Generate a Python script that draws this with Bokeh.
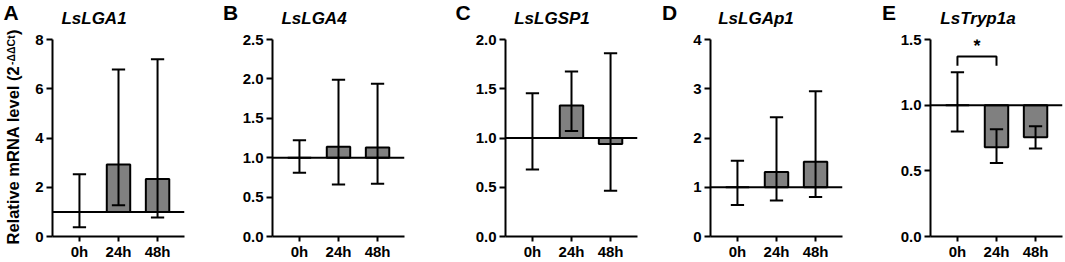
import math
from bokeh.plotting import figure
from bokeh.layouts import row, column
from bokeh.models import (Range1d, FixedTicker, Span, ColumnDataSource,
                          NumeralTickFormatter)
from bokeh.core.properties import value
from bokeh.embed import file_html
from bokeh.resources import INLINE

# ---------------- data ----------------
times = ["0h", "24h", "48h"]
panel_letters = ["A", "B", "C", "D", "E"]
genes = ["LsLGA1", "LsLGA4", "LsLGSP1", "LsLGAp1", "LsTryp1a"]

# mean relative expression (bars drawn from baseline 1) with error-bar ends
lga1_mean = [1.0, 2.92, 2.34]
lga1_low = [0.38, 1.27, 0.77]
lga1_high = [2.53, 6.78, 7.20]

lga4_mean = [1.0, 1.14, 1.13]
lga4_low = [0.81, 0.66, 0.67]
lga4_high = [1.22, 1.99, 1.94]

lgsp1_mean = [1.0, 1.33, 0.94]
lgsp1_low = [0.68, 1.07, 0.465]
lgsp1_high = [1.455, 1.675, 1.86]

lgap1_mean = [1.0, 1.31, 1.52]
lgap1_low = [0.64, 0.73, 0.80]
lgap1_high = [1.54, 2.42, 2.95]

tryp_mean = [1.0, 0.68, 0.755]
tryp_low = [0.80, 0.56, 0.67]
tryp_high = [1.25, 0.816, 0.84]

# y ticks per panel
ticks_a = [0, 2, 4, 6, 8]
ticks_b = [0, 0.5, 1.0, 1.5, 2.0, 2.5]
ticks_c = [0, 0.5, 1.0, 1.5, 2.0]
ticks_d = [0, 1, 2, 3, 4]
ticks_e = [0, 0.5, 1.0, 1.5]

# significance in panel E: between 0h and 24h
sig_pair = [1, 2]
sig_level = 1.37
sig_leg_bottom = 1.30
sig_text = "*"

# y-axis title pieces
ylabel_main = "Relative mRNA level (2"
ylabel_sup = "-ΔΔCt"
ylabel_end = ")"

FONT = "Liberation Sans"
GRAY = "#808080"
FRAME_W = 132
W_TOTAL = 1065
H_TOTAL = 262
STRIP_H = 27          # top strip with panel letters and gene names
YLAB_W = 24           # strip with the y-axis title


def make_panel(mean, low, high, ticks, fmt, left, right, sig=False):
    xs = [1, 2, 3]
    w = left + FRAME_W + right
    p = figure(width=w, height=H_TOTAL - STRIP_H, output_backend="svg",
               toolbar_location=None, title=None, x_range=Range1d(0.31, 3.69),
               y_range=Range1d(0, ticks[-1]),
               min_border_left=left, min_border_right=right,
               min_border_top=12, min_border_bottom=26)
    p.outline_line_color = None
    p.xgrid.visible = False
    p.ygrid.visible = False
    p.background_fill_color = None
    p.border_fill_color = None

    src = ColumnDataSource(dict(x=xs, top=mean, low=low, high=high,
                                cl=[x - 0.17 for x in xs], cr=[x + 0.17 for x in xs]))
    p.vbar(x="x", width=0.6, bottom=1, top="top", source=src,
           fill_color=GRAY, line_color="black", line_width=2)
    p.add_layout(Span(location=1, dimension="width", line_color="black", line_width=2))
    p.segment(x0="x", y0="low", x1="x", y1="high", source=src,
              line_color="black", line_width=2)
    p.segment(x0="cl", y0="low", x1="cr", y1="low", source=src,
              line_color="black", line_width=2)
    p.segment(x0="cl", y0="high", x1="cr", y1="high", source=src,
              line_color="black", line_width=2)

    for ax in (p.xaxis[0], p.yaxis[0]):
        ax.axis_line_width = 2
        ax.axis_line_color = "black"
        ax.major_tick_line_width = 2
        ax.major_tick_line_color = "black"
        ax.major_tick_in = 0
        ax.major_tick_out = 6
        ax.minor_tick_line_color = None
        ax.major_label_text_font = FONT
        ax.major_label_text_font_style = "bold"
        ax.major_label_text_font_size = "15px"
        ax.major_label_text_color = "black"
    p.xaxis.ticker = FixedTicker(ticks=xs)
    p.xaxis.major_label_overrides = {x: t for x, t in zip(xs, times)}
    p.xaxis.major_tick_out = 5
    p.xaxis.major_label_standoff = 1
    p.yaxis.ticker = FixedTicker(ticks=ticks)
    p.yaxis.formatter = NumeralTickFormatter(format=fmt)
    p.yaxis.major_label_standoff = 3

    if sig:
        x0, x1 = sig_pair
        p.line(x=[x0, x0, x1, x1],
               y=[sig_leg_bottom, sig_level, sig_level, sig_leg_bottom],
               line_color="black", line_width=2)
        p.text(x=[(x0 + x1) / 2], y=[sig_level], text=[sig_text],
               text_font=value(FONT), text_font_style="bold", text_font_size="18px",
               text_align="center", text_baseline="bottom", text_color="black",
               y_offset=-1)
    return p


def blank(width, height):
    f = figure(width=width, height=height, output_backend="svg",
               toolbar_location=None, title=None,
               x_axis_location=None, y_axis_location=None,
               x_range=Range1d(0, width), y_range=Range1d(height, 0),
               min_border=0)
    f.grid.visible = False
    f.outline_line_color = None
    f.background_fill_color = None
    f.border_fill_color = None
    if "frame_align" in f.properties():
        f.frame_align = False
    return f


# panel geometry: (left border, right border); first panel sits right of the y-title strip
borders = [(52 - YLAB_W, 36), (52, 36), (65, 28), (45, 38), (50, 3)]
formats = ["0", "0.0", "0.0", "0", "0.0"]
means = [lga1_mean, lga4_mean, lgsp1_mean, lgap1_mean, tryp_mean]
lows = [lga1_low, lga4_low, lgsp1_low, lgap1_low, tryp_low]
highs = [lga1_high, lga4_high, lgsp1_high, lgap1_high, tryp_high]
tick_sets = [ticks_a, ticks_b, ticks_c, ticks_d, ticks_e]
title_dx = [41.5, 41.5, 46.5, 45.5, 47.5]     # gene-name centre relative to y axis
letter_dx = [-49, -49.5, -50, -48.5, -48.5]   # panel letter left edge relative to y axis

panels = []
frame_lefts = []          # absolute x of each y axis
x_cursor = YLAB_W
for i in range(5):
    l, r = borders[i]
    panels.append(make_panel(means[i], lows[i], highs[i], tick_sets[i], formats[i],
                             l, r, sig=(i == 4)))
    frame_lefts.append(x_cursor + l)
    x_cursor += l + FRAME_W + r

# top strip (starts right of the y-title strip): letters and gene names
top = blank(W_TOTAL - YLAB_W, STRIP_H)
ylab = blank(YLAB_W, H_TOTAL)

top.text(x=[fl + dx - YLAB_W for fl, dx in zip(frame_lefts, title_dx)], y=[18.3] * 5,
         text=genes, text_font=value(FONT), text_font_style="bold italic",
         text_font_size="17px", text_align="center", text_baseline="middle",
         text_color="black")

letter_x = [fl + dx for fl, dx in zip(frame_lefts, letter_dx)]
in_top = [i for i in range(5) if letter_x[i] >= YLAB_W]
in_side = [i for i in range(5) if letter_x[i] < YLAB_W]
top.text(x=[letter_x[i] - YLAB_W for i in in_top], y=[11.5] * len(in_top),
         text=[panel_letters[i] for i in in_top], text_font=value(FONT),
         text_font_style="bold", text_font_size="21px", text_align="left",
         text_baseline="middle", text_color="black")
ylab.text(x=[letter_x[i] for i in in_side], y=[11.5] * len(in_side),
          text=[panel_letters[i] for i in in_side], text_font=value(FONT),
          text_font_style="bold", text_font_size="21px", text_align="left",
          text_baseline="middle", text_color="black")

# y-axis title, rotated (y measured from the top)
ylab.text(x=[12.3], y=[244], text=[ylabel_main], angle=math.pi / 2,
          text_font=value(FONT), text_font_style="bold", text_font_size="16.5px",
          text_align="left", text_baseline="middle", text_color="black")
ylab.text(x=[10.0], y=[64.5], text=[ylabel_sup], angle=math.pi / 2,
          text_font=value(FONT), text_font_style="bold", text_font_size="10.5px",
          text_align="left", text_baseline="middle", text_color="black")
ylab.text(x=[12.3], y=[34.5], text=[ylabel_end], angle=math.pi / 2,
          text_font=value(FONT), text_font_style="bold", text_font_size="16.5px",
          text_align="left", text_baseline="middle", text_color="black")

layout = row(ylab, column(top, row(*panels, spacing=0), spacing=0), spacing=0)
open("out.html", "w").write(file_html(layout, INLINE))
